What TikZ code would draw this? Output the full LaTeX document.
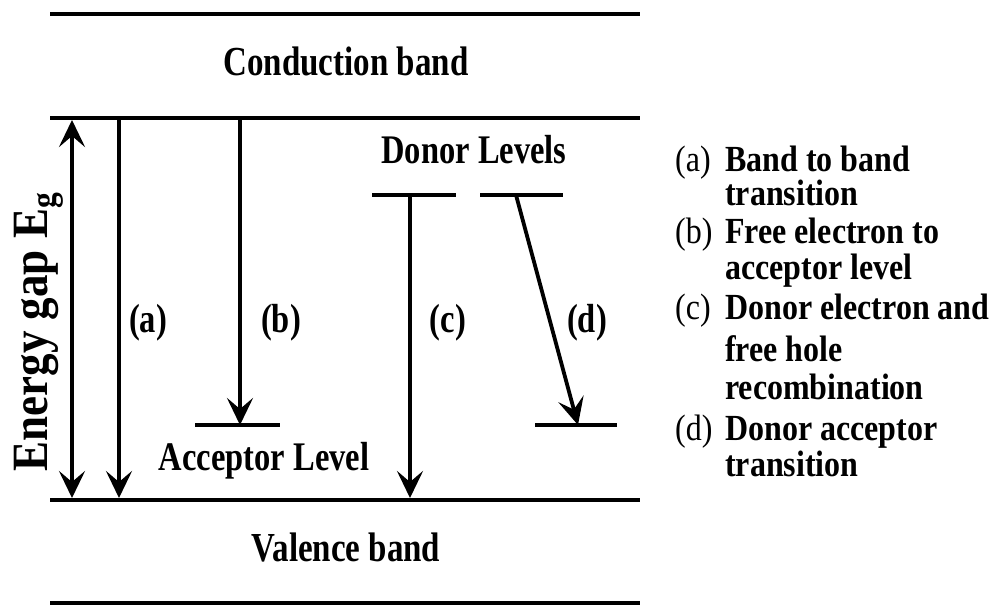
\documentclass[tikz,border=0pt]{standalone}
\usepackage{fontspec}
\usepackage{graphicx}
\setmainfont{Liberation Serif}
\usetikzlibrary{arrows.meta}
\newcommand{\vstretch}[1]{\scalebox{1}[1.25]{#1}}
\newcommand{\lstretch}[1]{\scalebox{1}[1.15]{#1}}
\begin{document}
\begin{tikzpicture}[x=1pt,y=-1pt,
  band/.style={line width=4.5pt},
  lvl/.style={line width=4pt},
  tip/.tip={Stealth[length=27pt,width=26pt,inset=11pt]},
  trans/.style={line width=3.8pt,-tip},
  lbl/.style={font=\bfseries\fontsize{32.5}{36}\selectfont,inner sep=0pt,anchor=base},
  big/.style={font=\bfseries\fontsize{33}{36}\selectfont,inner sep=0pt,anchor=base},
  legend/.style={font=\fontsize{32}{36}\selectfont,inner sep=0pt,anchor=base west}]
\useasboundingbox (0,0) rectangle (994,608);
% bands
\coordinate (t1) at (50,14);   \coordinate (t2) at (640,14);
\coordinate (c1) at (50,118);  \coordinate (c2) at (640,118);
\coordinate (v1) at (50,500);  \coordinate (v2) at (640,500);
\coordinate (b1) at (50,603);  \coordinate (b2) at (640,603);
\draw[band] (t1) -- (t2);
\draw[band] (c1) -- (c2);
\draw[band] (v1) -- (v2);
\draw[band] (b1) -- (b2);
\node[big] (cb) at (346,75) {\vstretch{Conduction band}};
\node[big] (vb) at (346,561) {\vstretch{Valence band}};
% energy gap
\coordinate (eg1) at (72,120); \coordinate (eg2) at (72,498);
\draw[line width=3.8pt,tip-tip] (eg1) -- (eg2);
\node[font=\bfseries\fontsize{45}{50}\selectfont,inner sep=0pt,anchor=base,rotate=90] (eg) at (47,332) {\scalebox{1}[1.13]{Energy gap E\textsubscript{g}}};
% (a)
\coordinate (a1) at (119,120); \coordinate (a2) at (119,498);
\draw[trans] (a1) -- (a2);
\node[lbl] (la) at (148,332) {\vstretch{(a)}};
% (b)
\coordinate (acl1) at (195,425); \coordinate (acl2) at (280,425);
\draw[lvl] (acl1) -- (acl2);
\coordinate (bb1) at (240,120); \coordinate (bb2) at (240,425);
\draw[trans] (bb1) -- (bb2);
\node[lbl] (lb) at (281,332) {\vstretch{(b)}};
\node[lbl] (acc) at (264,470) {\vstretch{Acceptor Level}};
% donor levels
\node[lbl] (don) at (474,163) {\vstretch{Donor Levels}};
\coordinate (dl1) at (372,195); \coordinate (dl2) at (456,195);
\coordinate (dr1) at (480,195); \coordinate (dr2) at (563,195);
\draw[lvl] (dl1) -- (dl2);
\draw[lvl] (dr1) -- (dr2);
% (c)
\coordinate (cc1) at (410,195); \coordinate (cc2) at (410,498);
\draw[trans] (cc1) -- (cc2);
\node[lbl] (lc) at (448,332) {\vstretch{(c)}};
% (d)
\coordinate (ar1) at (535,425); \coordinate (ar2) at (617,425);
\draw[lvl] (ar1) -- (ar2);
\coordinate (dd1) at (516,195); \coordinate (dd2) at (578,425);
\draw[trans] (dd1) -- (dd2);
\node[lbl] (ld) at (587,332) {\vstretch{(d)}};
% legend
\node[legend] (la1) at (675,171) {\lstretch{(a)}};
\node[legend] (la2) at (725,171) {\lstretch{\textbf{Band to band}}};
\node[legend] (la3) at (725,205) {\lstretch{\textbf{transition}}};
\node[legend] (lb1) at (675,243) {\lstretch{(b)}};
\node[legend] (lb2) at (725,243) {\lstretch{\textbf{Free electron to}}};
\node[legend] (lb3) at (725,279) {\lstretch{\textbf{acceptor level}}};
\node[legend] (lc1) at (675,319) {\lstretch{(c)}};
\node[legend] (lc2) at (725,319) {\lstretch{\textbf{Donor electron and}}};
\node[legend] (lc3) at (725,361) {\lstretch{\textbf{free hole}}};
\node[legend] (lc4) at (725,399) {\lstretch{\textbf{recombination}}};
\node[legend] (ld1) at (675,440) {\lstretch{(d)}};
\node[legend] (ld2) at (725,440) {\lstretch{\textbf{Donor acceptor}}};
\node[legend] (ld3) at (725,476) {\lstretch{\textbf{transition}}};
\end{tikzpicture}
\end{document}
